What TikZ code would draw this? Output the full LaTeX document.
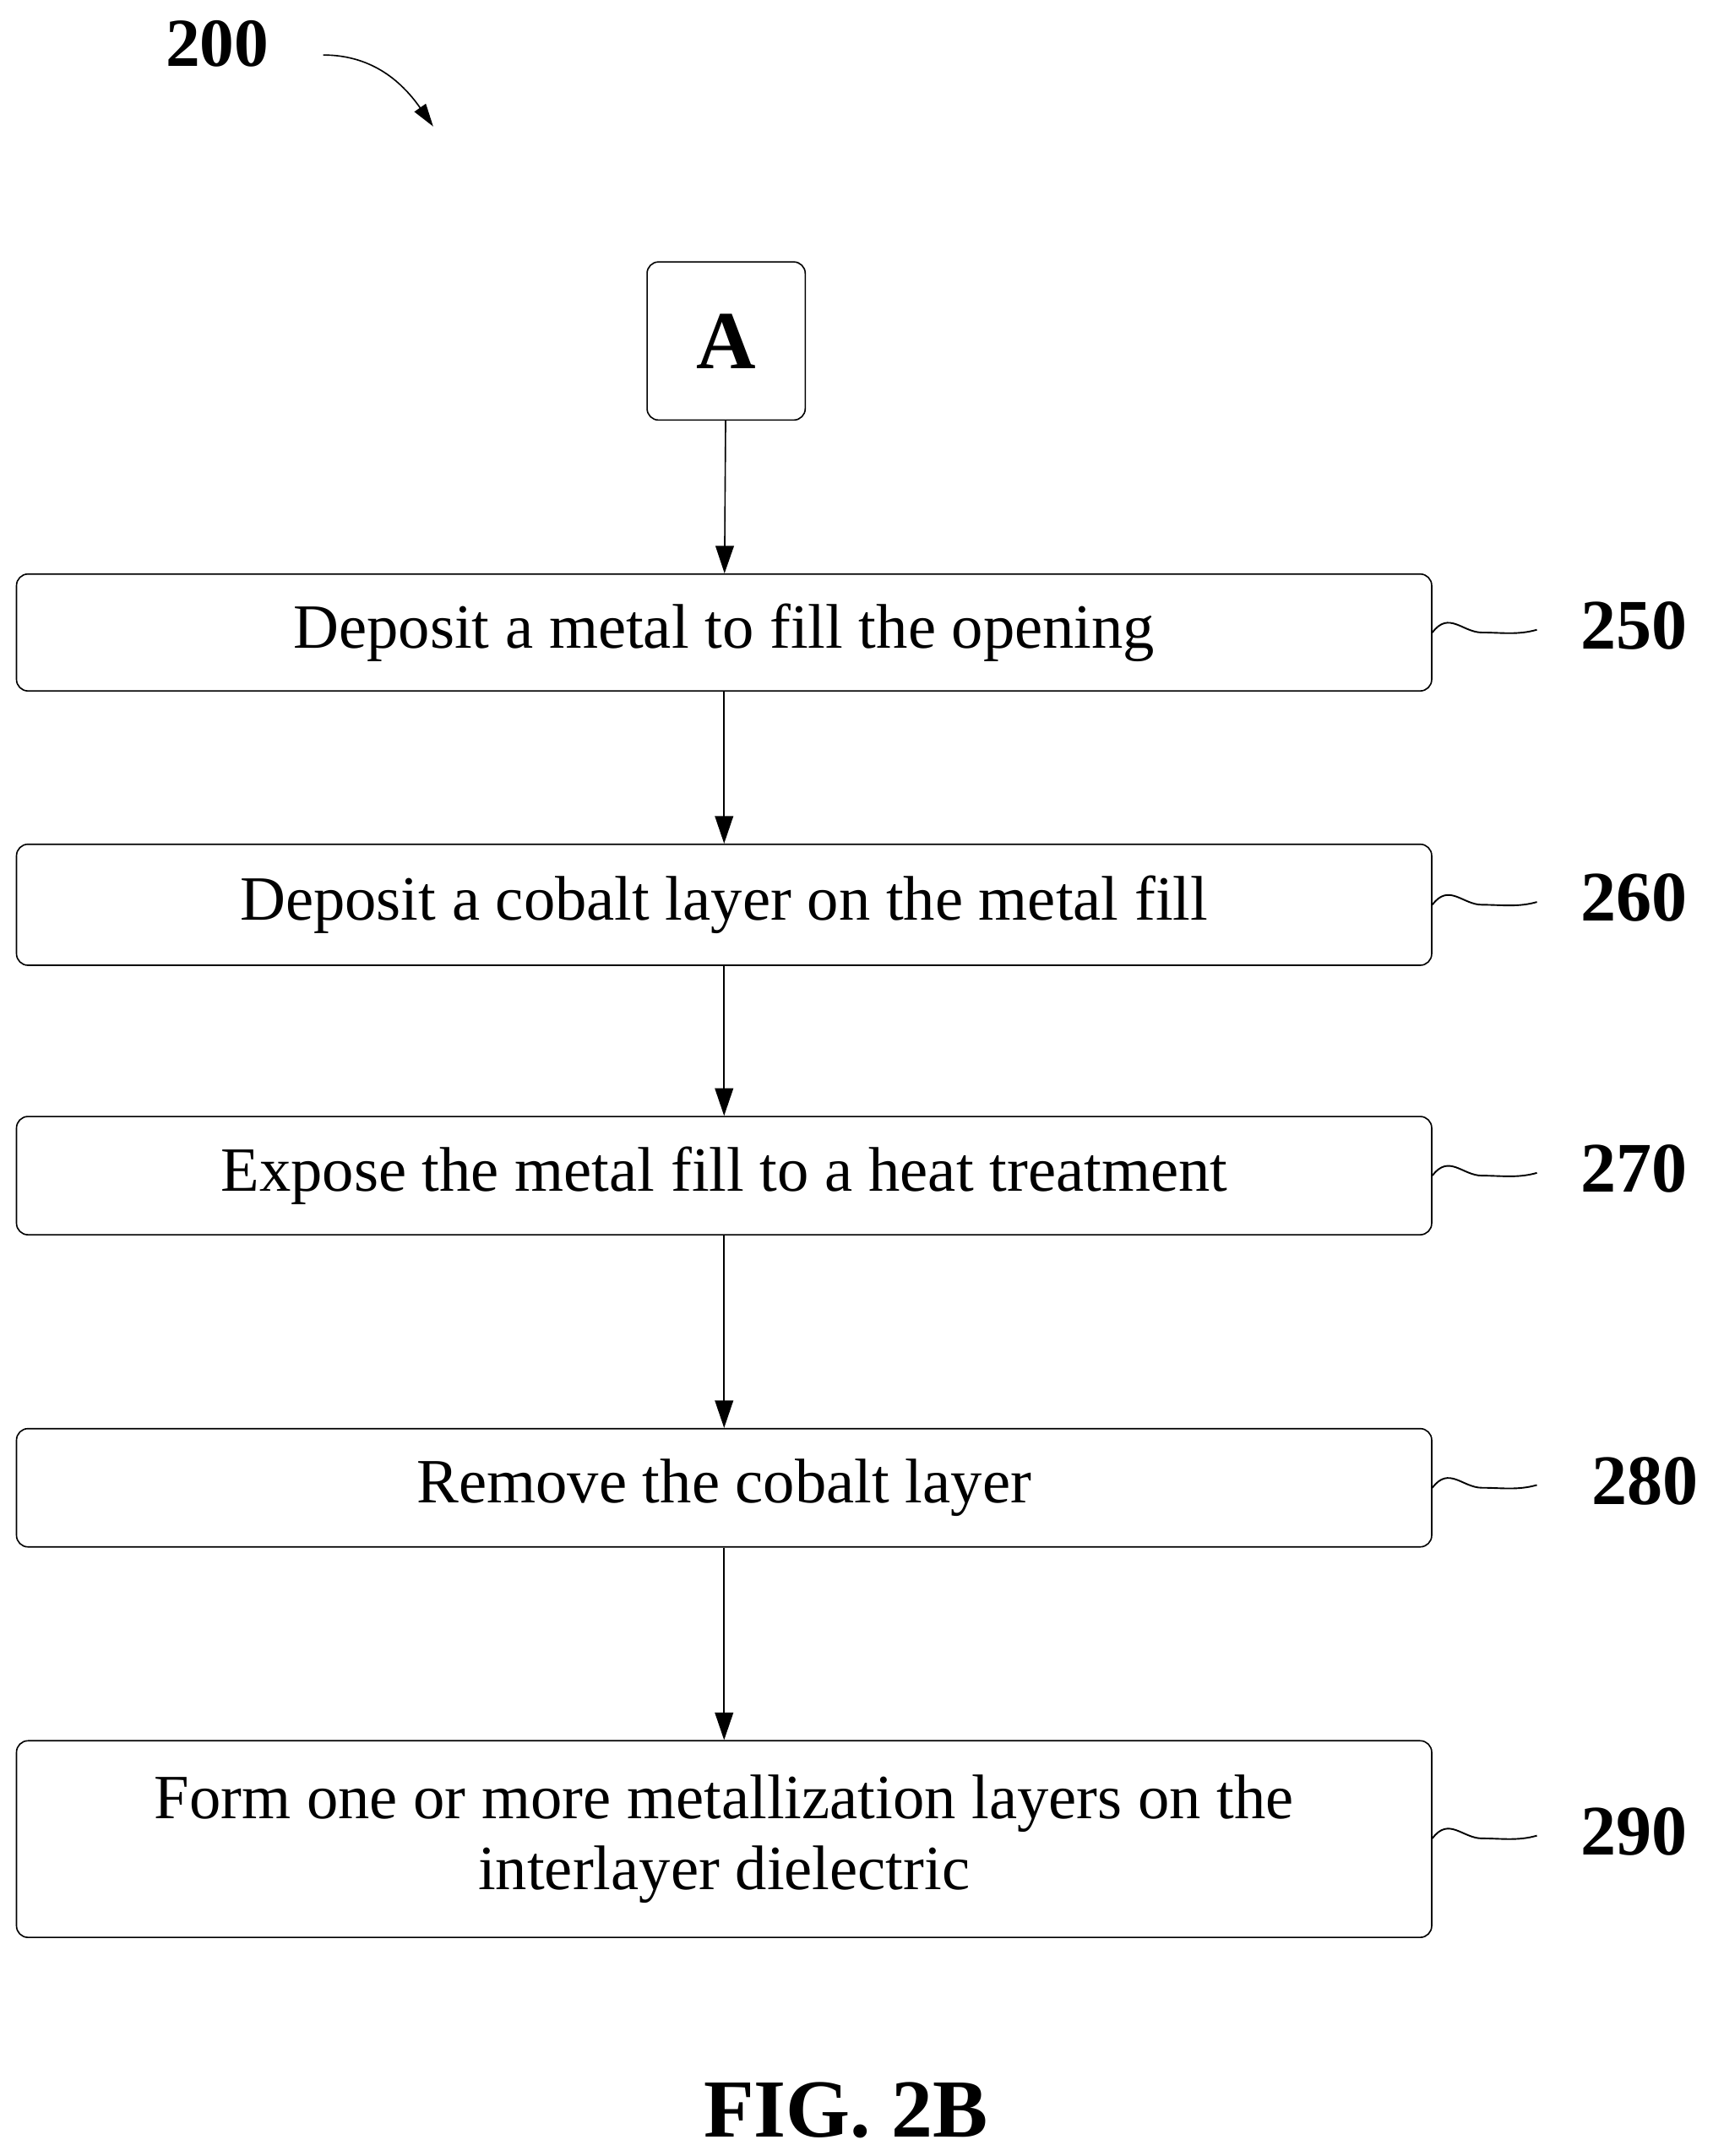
\documentclass[tikz,border=0pt]{standalone}
\usepackage{fontspec}
\setmainfont{Liberation Serif}
\usetikzlibrary{arrows.meta}
\begin{document}
\begin{tikzpicture}[x=0.6pt,y=-0.6pt,
 box/.style={draw,rounded corners=5pt,line width=0.6pt,inner sep=0pt,font=\fontsize{27.5}{31}\selectfont,align=center},
 lab/.style={font=\bfseries\fontsize{31}{34}\selectfont},
 arr/.style={-{Triangle[length=12pt,width=8pt]},line width=0.6pt},
 sq/.style={line width=0.7pt}]
\useasboundingbox (0,0) rectangle (1245,1568);
\node[lab,font=\bfseries\fontsize{30}{34}\selectfont] (n200) at (158,32) {200};
\coordinate (c1) at (235,40);
\coordinate (c2) at (315,92);
\draw[-{Triangle[length=10pt,width=6pt]},line width=0.6pt] (c1) to[out=0,in=125] (c2);
\node[box,minimum width=115*0.6pt,minimum height=115*0.6pt,font=\bfseries\fontsize{36}{40}\selectfont] (A) at (528,248) {A};
\node[box,minimum width=1029*0.6pt,minimum height=85*0.6pt] (b250) at (526.5,460) {Deposit a metal to fill the opening};
\node[box,minimum width=1029*0.6pt,minimum height=88*0.6pt] (b260) at (526.5,658) {Deposit a cobalt layer on the metal fill};
\node[box,minimum width=1029*0.6pt,minimum height=86*0.6pt] (b270) at (526.5,855) {Expose the metal fill to a heat treatment};
\node[box,minimum width=1029*0.6pt,minimum height=86*0.6pt] (b280) at (526.5,1082) {Remove the cobalt layer};
\node[box,minimum width=1029*0.6pt,minimum height=143*0.6pt] (b290) at (526.5,1337.5) {Form one or more metallization layers on the\\[0pt] interlayer dielectric};
\draw[arr] (A) -- (b250);
\draw[arr] (b250) -- (b260);
\draw[arr] (b260) -- (b270);
\draw[arr] (b270) -- (b280);
\draw[arr] (b280) -- (b290);
\foreach \n/\y/\lx in {250/460/1188,260/658/1188,270/855/1188,280/1082/1196,290/1337/1188}{
  \draw[sq] (b\n.east|-0,\y) .. controls +(12,-16) and +(-14,0) .. +(36,0) .. controls +(14,0) and +(-14,4) .. +(76,-2);
  \node[lab] (l\n) at (\lx,\y-5) {\n};
}
\node[font=\bfseries\fontsize{36}{40}\selectfont] (fig) at (615,1535) {FIG. 2B};
\end{tikzpicture}
\end{document}
